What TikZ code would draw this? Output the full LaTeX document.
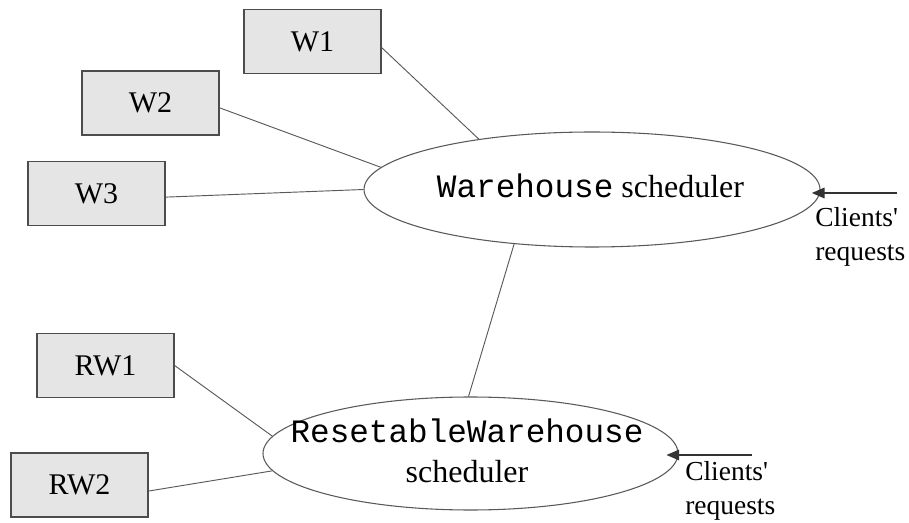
\documentclass[tikz,border=0pt]{standalone}
\usepackage{fontspec}
\setmainfont{Liberation Serif}[Ligatures=TeXOff]
\setmonofont{Liberation Mono}
\usetikzlibrary{shapes.geometric,arrows.meta}
\begin{document}
\begin{tikzpicture}[x=0.75pt,y=-0.75pt,
  wbox/.style={draw=black!70,fill=black!10,line width=0.9pt,minimum width=102.75pt,minimum height=48pt,inner sep=0pt,font=\fontsize{22.5}{27}\selectfont},
  sched/.style={ellipse,draw=black!65,line width=0.8pt,inner sep=0pt},
  link/.style={draw=black!65,line width=0.7pt},
  req/.style={draw=black!80,line width=0.9pt,-{Triangle[length=9.5pt,width=8pt]}},
  reqtext/.style={align=left,inner sep=0pt,font=\fontsize{20.6}{25.5}\selectfont,anchor=north west},
  schedtext/.style={inner sep=0pt,align=center,font=\fontsize{24}{30}\selectfont}]
\useasboundingbox (0,0) rectangle (909,523);
% boxes
\node[wbox] (w1) at (312.5,41.5) {W1};
\node[wbox] (w2) at (150.5,103) {W2};
\node[wbox] (w3) at (96.5,193.5) {W3};
\node[wbox] (rw1) at (105.5,365.5) {RW1};
\node[wbox] (rw2) at (79.5,485) {RW2};
% schedulers
\node[sched,minimum width=342pt,minimum height=86.25pt] (ws) at (592,189.5) {};
\node[schedtext,anchor=base] (wst) at (590.5,198) {{\fontsize{24.5}{30}\selectfont\ttfamily Warehouse} scheduler};
\node[sched,minimum width=311.25pt,minimum height=84.75pt] (rs) at (470.5,453.5) {};
\node[schedtext] (rst) at (467,451) {{\fontsize{24.5}{30}\selectfont\ttfamily ResetableWarehouse}\\scheduler};
% links
\draw[link] (w1.-5.4) -- (ws.156.6);
\draw[link] (w2.-4.2) -- (ws.174.3);
\draw[link] (w3.-3.8) -- (ws.180);
\draw[link] (ws.215.3) -- (rs.92);
\draw[link] (rw1.east) -- (rs.175.3);
\draw[link] (rw2.-5.8) -- (rs.185.1);
% requests
\coordinate (c1) at (897,193);
\coordinate (c2) at (752,455);
\draw[req,shorten >=-6.5pt] (c1) -- (c1 -| ws.east);
\draw[req,shorten >=-9pt] (c2) -- (c2 -| rs.east);
\node[reqtext] (r1) at (815,207) {Clients'\\requests};
\node[reqtext] (r2) at (685,461) {Clients'\\requests};
\end{tikzpicture}
\end{document}
